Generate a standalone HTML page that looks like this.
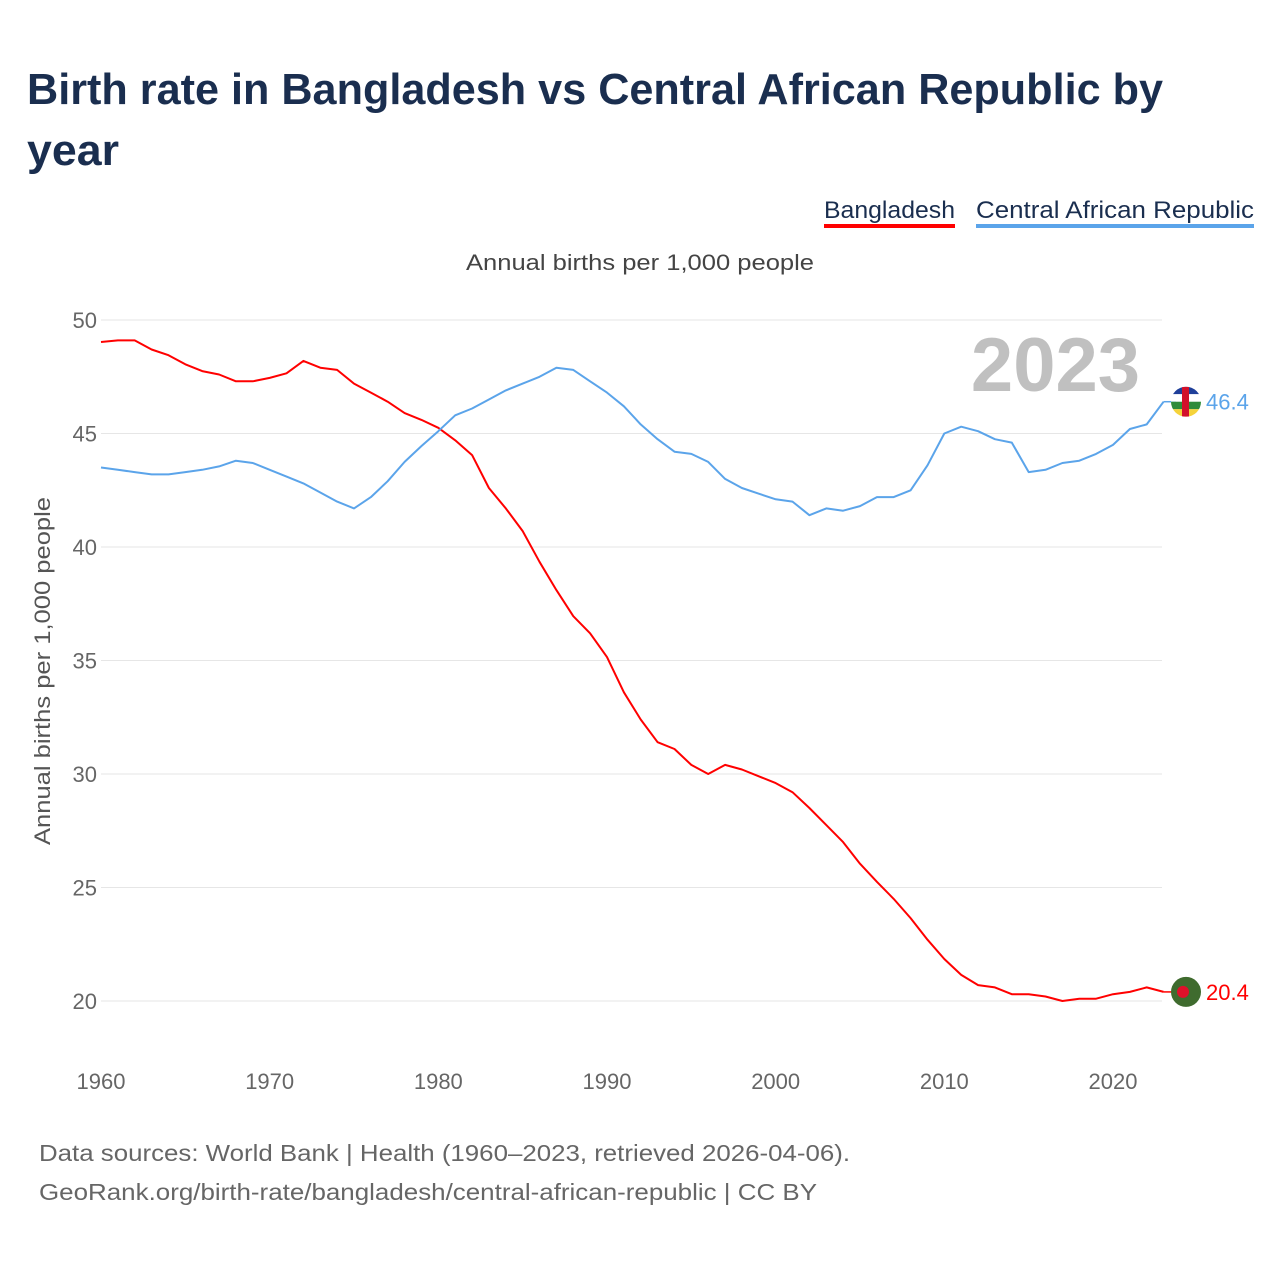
<!DOCTYPE html>
<html><head><meta charset="utf-8">
<style>
html,body{margin:0;padding:0;background:#fff;}
body{width:1280px;height:1280px;overflow:hidden;font-family:"Liberation Sans",sans-serif;}
</style></head>
<body>
<svg id="chart" width="1280" height="1280" xmlns="http://www.w3.org/2000/svg" style="font-family:'Liberation Sans',sans-serif">
<text x="27" y="104" font-size="44" font-weight="bold" fill="#1a2e4f" textLength="1136" lengthAdjust="spacingAndGlyphs">Birth rate in Bangladesh vs Central African Republic by</text>
<text x="27" y="165" font-size="44" font-weight="bold" fill="#1a2e4f" textLength="92" lengthAdjust="spacingAndGlyphs">year</text>
<g>
<text x="824" y="218" font-size="24" fill="#1a2e4f" textLength="131" lengthAdjust="spacingAndGlyphs">Bangladesh</text>
<rect x="824" y="224" width="131" height="4" fill="#ff0000"/>
</g>
<g>
<text x="976" y="218" font-size="24" fill="#1a2e4f" textLength="278" lengthAdjust="spacingAndGlyphs">Central African Republic</text>
<rect x="976" y="224" width="278" height="4" fill="#5ba4ea"/>
</g>
<text x="466" y="270" font-size="22" fill="#444" textLength="348" lengthAdjust="spacingAndGlyphs">Annual births per 1,000 people</text>
<text transform="translate(50,671) rotate(-90)" font-size="22" fill="#555" text-anchor="middle" textLength="348" lengthAdjust="spacingAndGlyphs">Annual births per 1,000 people</text>
<text x="1140" y="391" font-size="76" font-weight="bold" fill="#c0c0c0" text-anchor="end">2023</text>
<g id="grid"></g><g id="series"></g>
<text x="39" y="1161" font-size="23" fill="#666" textLength="811" lengthAdjust="spacingAndGlyphs">Data sources: World Bank | Health (1960–2023, retrieved 2026-04-06).</text>
<text x="39" y="1200" font-size="23" fill="#666" textLength="778" lengthAdjust="spacingAndGlyphs">GeoRank.org/birth-rate/bangladesh/central-african-republic | CC BY</text>
</svg>
<script>
const years=[];for(let y=1960;y<=2023;y++)years.push(y);
const bangladesh=[49.03,49.1,49.1,48.7,48.45,48.05,47.75,47.6,47.3,47.3,47.45,47.65,48.2,47.9,47.8,47.2,46.8,46.4,45.9,45.6,45.25,44.7,44.05,42.6,41.7,40.7,39.35,38.1,36.95,36.2,35.15,33.6,32.4,31.4,31.1,30.4,30.0,30.4,30.2,29.9,29.6,29.2,28.5,27.75,27.0,26.05,25.25,24.5,23.65,22.7,21.85,21.15,20.7,20.6,20.3,20.3,20.2,20.0,20.1,20.1,20.3,20.4,20.6,20.4];
const car=[43.5,43.4,43.3,43.2,43.2,43.3,43.4,43.55,43.8,43.7,43.4,43.1,42.8,42.4,42.0,41.7,42.2,42.9,43.75,44.45,45.1,45.8,46.1,46.5,46.9,47.2,47.5,47.9,47.8,47.3,46.8,46.2,45.4,44.75,44.2,44.1,43.75,43.0,42.6,42.35,42.1,42.0,41.4,41.7,41.6,41.8,42.2,42.2,42.5,43.6,45.0,45.3,45.1,44.75,44.6,43.3,43.4,43.7,43.8,44.1,44.5,45.2,45.4,46.4];
const yTicks=[20,25,30,35,40,45,50];
const xTicks=[1960,1970,1980,1990,2000,2010,2020];
const NS="http://www.w3.org/2000/svg";
const X=v=>101+(v-1960)*(1113-101)/60;
const Y=v=>1001-(v-20)*(1001-320)/30;
function el(t,a,p){const e=document.createElementNS(NS,t);for(const k in a)e.setAttribute(k,a[k]);p.appendChild(e);return e;}
const grid=document.getElementById('grid'),ser=document.getElementById('series');
yTicks.forEach(v=>{
 const l=el('line',{x1:101,x2:1162,y1:Y(v),y2:Y(v),stroke:'#e6e6e6','stroke-width':1},grid);
 
 
 const t=el('text',{x:97,y:Y(v)+8,'font-size':22,fill:'#666','text-anchor':'end'},grid);t.textContent=v;
 
 
});
xTicks.forEach(v=>{
 const t=el('text',{x:X(v),y:1089,'font-size':22,fill:'#666','text-anchor':'middle'},grid);t.textContent=v;
 
 
});
function line(vals,color,name){
 const d=vals.map((v,i)=>(i?'L':'M')+X(years[i]).toFixed(1)+','+Y(v).toFixed(1)).join(' ');
 const p=el('path',{d:d,fill:'none',stroke:color,'stroke-width':2,'stroke-linejoin':'round'},ser);
 
 
 const last=vals[vals.length-1];
 const ly=Y(last);
 el('line',{x1:X(2023),x2:1176,y1:ly,y2:ly,stroke:color,'stroke-width':1.5},ser);
 const t=el('text',{x:1206,y:ly+8,'font-size':22,fill:color},ser);t.textContent=last.toFixed(1);
 
 
 return ly;
}
const ly1=line(bangladesh,'#ff0000','bangladesh-line');
const ly2=line(car,'#5ba4ea','car-line');
const f1=el('g',{},ser);


el('circle',{cx:1186,cy:ly1,r:15,fill:'#3f6b2e'},f1);
el('circle',{cx:1183,cy:ly1,r:6,fill:'#e0102a'},f1);
const f2=el('g',{},ser);


el('clipPath',{id:'cc'},f2);
el('circle',{cx:1186,cy:ly2,r:15},document.getElementById('cc'));
const g=el('g',{'clip-path':'url(#cc)'},f2);
el('rect',{x:1171,y:ly2-15,width:30,height:7.5,fill:'#1f3f99'},g);
el('rect',{x:1171,y:ly2-7.5,width:30,height:7.5,fill:'#ffffff'},g);
el('rect',{x:1171,y:ly2,width:30,height:7.5,fill:'#2e8b3a'},g);
el('rect',{x:1171,y:ly2+7.5,width:30,height:7.5,fill:'#f5d33a'},g);
el('rect',{x:1182,y:ly2-15,width:7,height:30,fill:'#d2102a'},g);
</script>
</body></html>
